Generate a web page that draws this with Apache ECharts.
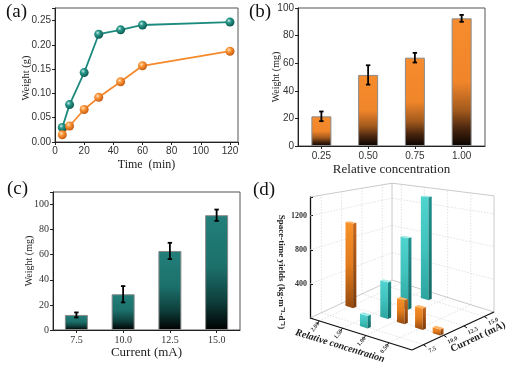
<!DOCTYPE html>
<html>
<head>
<meta charset="utf-8">
<script src="https://cdn.jsdelivr.net/npm/echarts@6/dist/echarts.min.js"></script>
<style>
  html, body { margin: 0; padding: 0; background: #fff; }
  #main { width: 514px; height: 367px; }
</style>
</head>
<body>
<div id="main"></div>
<script>
// (a) weight vs time
const timeMin = [5, 10, 20, 30, 45, 60, 120]
const weightTeal = [0.030, 0.077, 0.143, 0.222, 0.231, 0.241, 0.247]
const weightOrange = [0.015, 0.033, 0.067, 0.092, 0.124, 0.157, 0.187]

// (b) weight vs relative concentration
const concLabels = ['0.25', '0.50', '0.75', '1.00']
const concWeight = [21.5, 51.5, 64, 92.5]
const concErr = [3.5, 7, 3.5, 2.5]

// (c) weight vs current
const currentLabels = ['7.5', '10.0', '12.5', '15.0']
const currentWeight = [12, 28.5, 63, 91.5]
const currentErr = [2, 6.5, 6.5, 4.5]

// (d) space-time yields
const styConc = [2.0, 0.89, 0.5, 0.12]          // orange bars
const styConcYield = [1050, 275, 240, 65]
const styConcCurrent = 10.0
const styCurrent = [7.5, 10.0, 12.5, 15.0]      // teal bars
const styCurrentYield = [140, 430, 880, 1340]
const styCurrentConc = 1.25
const d3ConcTicks = [2.0, 1.5, 1.0, 0.5]
const d3CurrentTicks = [7.5, 10.0, 12.5, 15.0]

const SERIF = '"Liberation Serif", "Times New Roman", serif'
const SANS = '"Liberation Sans", Arial, sans-serif'

// 3d box setup
const CONC_MAX = 2.2
const CUR_MIN = 6.1
const CUR_MAX = 16.2
const Y_MAX = 1420
const FLOOR_A = [102, 32]   // conc direction (L -> F)
const FLOOR_B = [82, -38]   // current direction (F -> R)
const PERSP_U = 0.16
const PERSP_V = -0.2
const BAR_DC = 0.082
const BAR_DI = 0.2

function project(api, c, I, val) {
  const o = api.coord([CUR_MIN, 0])
  const q = api.coord([I, 0])
  const p = api.coord([I, val])
  const u = (CONC_MAX - c) / CONC_MAX
  const v = (q[0] - o[0]) / FLOOR_B[0]
  const f = 1 + PERSP_U * u + PERSP_V * v
  return [q[0] + u * FLOOR_A[0], o[1] + u * FLOOR_A[1] + v * FLOOR_B[1] - (q[1] - p[1]) * f]
}

function line(p1, p2, stroke, lw, dash) {
  return {
    type: 'line',
    shape: { x1: p1[0], y1: p1[1], x2: p2[0], y2: p2[1] },
    style: { stroke: stroke, lineWidth: lw, lineDash: dash || null }
  }
}

function renderFrame(params, api) {
  const kids = []
  const grid = '#d6d6d6'
  const dash = [1.5, 1.5]
  // walls and floor grid
  ;[400, 800, 1200].forEach(function(y) {
    kids.push(line(project(api, CONC_MAX, CUR_MIN, y), project(api, CONC_MAX, CUR_MAX, y), grid, 0.7, dash))
    kids.push(line(project(api, CONC_MAX, CUR_MAX, y), project(api, 0, CUR_MAX, y), grid, 0.7, dash))
  })
  d3CurrentTicks.forEach(function(I) {
    kids.push(line(project(api, CONC_MAX, I, 0), project(api, CONC_MAX, I, Y_MAX), grid, 0.7, dash))
    kids.push(line(project(api, CONC_MAX, I, 0), project(api, 0, I, 0), grid, 0.7, dash))
  })
  d3ConcTicks.forEach(function(c) {
    kids.push(line(project(api, c, CUR_MAX, 0), project(api, c, CUR_MAX, Y_MAX), grid, 0.7, dash))
    kids.push(line(project(api, c, CUR_MIN, 0), project(api, c, CUR_MAX, 0), grid, 0.7, dash))
  })
  // box edges
  const edge = '#bdbdbd'
  const Lf = project(api, CONC_MAX, CUR_MIN, 0)
  const Bf = project(api, CONC_MAX, CUR_MAX, 0)
  const Rf = project(api, 0, CUR_MAX, 0)
  const Ff = project(api, 0, CUR_MIN, 0)
  const Lt = project(api, CONC_MAX, CUR_MIN, Y_MAX)
  const Bt = project(api, CONC_MAX, CUR_MAX, Y_MAX)
  const Rt = project(api, 0, CUR_MAX, Y_MAX)
  kids.push(line(Lf, Bf, edge, 0.8))
  kids.push(line(Bf, Rf, edge, 0.8))
  kids.push(line(Bf, Bt, edge, 0.8))
  kids.push(line(Rf, Rt, edge, 0.8))
  kids.push(line(Lt, Bt, edge, 0.8))
  kids.push(line(Bt, Rt, edge, 0.8))
  // front axes
  kids.push(line(Lf, Ff, '#111', 1.3))
  kids.push(line(Ff, Rf, '#111', 1.3))
  d3ConcTicks.forEach(function(c) {
    const p = project(api, c, CUR_MIN, 0)
    kids.push(line(p, [p[0] - 2, p[1] + 3], '#111', 1))
    kids.push({
      type: 'text', x: p[0] - 4, y: p[1] + 6, rotation: 0.9,
      style: { text: c.toFixed(2), fill: '#333', font: 'bold 6px ' + SERIF, align: 'center', verticalAlign: 'middle' }
    })
  })
  d3CurrentTicks.forEach(function(I) {
    const p = project(api, 0, I, 0)
    kids.push(line(p, [p[0] + 3, p[1] + 2], '#111', 1))
    kids.push({
      type: 'text', x: p[0] + 9, y: p[1] + 5, rotation: 0.44,
      style: { text: I.toFixed(1), fill: '#333', font: 'bold 6px ' + SERIF, align: 'center', verticalAlign: 'middle' }
    })
  })
  kids.push({
    type: 'text', x: 340, y: 346, rotation: -0.3,
    style: { text: 'Relative concentration', fill: '#222', font: 'italic bold 10px ' + SERIF, align: 'center', verticalAlign: 'middle' }
  })
  kids.push({
    type: 'text', x: 478, y: 337, rotation: 0.44,
    style: { text: 'Current (mA)', fill: '#222', font: 'bold 10px ' + SERIF, align: 'center', verticalAlign: 'middle' }
  })
  return { type: 'group', children: kids }
}

const barColors = {
  orange: {
    left: ['#f8922a', '#e27b1c', '#94490f'],
    right: ['#c8661b', '#7a3a0a'],
    top: '#ffb466'
  },
  teal: {
    left: ['#50d4cf', '#40c2bd', '#2ca49f'],
    right: ['#1f908c', '#136a67'],
    top: '#9de9e5'
  }
}

function grad(stops) {
  return {
    type: 'linear', x: 0, y: 0, x2: 0, y2: 1,
    colorStops: stops.map(function(c, i) { return { offset: i / (stops.length - 1), color: c } })
  }
}

function renderBar3d(params, api) {
  const c = api.value(0)
  const I = api.value(1)
  const val = api.value(2)
  const col = api.value(3) === 0 ? barColors.orange : barColors.teal
  const lb = project(api, c + BAR_DC, I - BAR_DI, 0)
  const fb = project(api, c - BAR_DC, I - BAR_DI, 0)
  const rb = project(api, c - BAR_DC, I + BAR_DI, 0)
  const lt = project(api, c + BAR_DC, I - BAR_DI, val)
  const ft = project(api, c - BAR_DC, I - BAR_DI, val)
  const rt = project(api, c - BAR_DC, I + BAR_DI, val)
  const bt = project(api, c + BAR_DC, I + BAR_DI, val)
  return {
    type: 'group',
    children: [
      { type: 'polygon', shape: { points: [lb, fb, ft, lt] }, style: { fill: grad(col.left) } },
      { type: 'polygon', shape: { points: [fb, rb, rt, ft] }, style: { fill: grad(col.right) } },
      { type: 'polygon', shape: { points: [lt, ft, rt, bt] }, style: { fill: col.top } }
    ]
  }
}

// 3d bars, drawn back to front
const bars3d = []
styConc.forEach(function(c, i) { bars3d.push([c, styConcCurrent, styConcYield[i], 0]) })
styCurrent.forEach(function(I, i) { bars3d.push([styCurrentConc, I, styCurrentYield[i], 1]) })
bars3d.sort(function(a, b) {
  const na = (CONC_MAX - a[0]) / CONC_MAX - (a[1] - CUR_MIN) / (CUR_MAX - CUR_MIN)
  const nb = (CONC_MAX - b[0]) / CONC_MAX - (b[1] - CUR_MIN) / (CUR_MAX - CUR_MIN)
  return na - nb
})

function renderErr(params, api) {
  const i = api.value(0)
  const m = api.value(1)
  const e = api.value(2)
  const hi = api.coord([i, m + e])
  const lo = api.coord([i, m - e])
  const w = 2.2
  return {
    type: 'group',
    children: [
      line(hi, lo, '#000', 1.8),
      line([hi[0] - w, hi[1]], [hi[0] + w, hi[1]], '#000', 1.8),
      line([lo[0] - w, lo[1]], [lo[0] + w, lo[1]], '#000', 1.8)
    ]
  }
}

function ball(light, mid, dark) {
  return {
    type: 'radial', x: 0.38, y: 0.35, r: 0.65,
    colorStops: [{ offset: 0, color: light }, { offset: 0.35, color: mid }, { offset: 1, color: dark }]
  }
}

function yName(text, x, y, size) {
  return {
    type: 'text', x: x, y: y, rotation: Math.PI / 2,
    style: { text: text, font: size + 'px ' + SERIF, fill: '#222', align: 'center', verticalAlign: 'middle' }
  }
}

const isMult = function(v, step) { return Math.abs(v / step - Math.round(v / step)) < 1e-6 }

const frameGrid = { show: true, borderColor: '#555', borderWidth: 1, backgroundColor: 'transparent' }
const tickOut = { show: true, inside: false, length: 3, lineStyle: { color: '#222' } }
const axisBlack = { show: true, onZero: false, lineStyle: { color: '#222', width: 1 } }

const chart = echarts.init(document.getElementById('main'))
chart.setOption({
  animation: false,
  backgroundColor: '#fff',
  grid: [
    Object.assign({ left: 55, top: 8, width: 183, height: 134 }, frameGrid),
    Object.assign({ left: 298, top: 8, width: 187, height: 138 }, frameGrid),
    Object.assign({ left: 53, top: 192, width: 187, height: 138 }, frameGrid),
    { left: 310, top: 197, width: 82, height: 121, show: false }
  ],
  xAxis: [
    {
      gridIndex: 0, type: 'value', min: 0, max: 125.5, interval: 20,
      axisLine: axisBlack, axisTick: tickOut, splitLine: { show: false },
      axisLabel: { color: '#333', fontSize: 10, fontFamily: SANS, margin: 4,
        formatter: function(v) { return isMult(v, 20) ? String(v) : '' } },
      name: 'Time  (min)', nameLocation: 'middle', nameGap: 17, nameMoveOverlap: false,
      nameTextStyle: { fontFamily: SERIF, fontSize: 12, color: '#222' }
    },
    {
      gridIndex: 1, type: 'category', data: concLabels,
      axisLine: axisBlack, axisTick: Object.assign({ alignWithLabel: true }, tickOut),
      axisLabel: { color: '#333', fontSize: 10, fontFamily: SANS, margin: 5 },
      name: 'Relative concentration', nameLocation: 'middle', nameGap: 17, nameMoveOverlap: false,
      nameTextStyle: { fontFamily: SERIF, fontSize: 13, color: '#222' }
    },
    {
      gridIndex: 2, type: 'category', data: currentLabels,
      axisLine: axisBlack, axisTick: Object.assign({ alignWithLabel: true }, tickOut),
      axisLabel: { color: '#333', fontSize: 10, fontFamily: SERIF, margin: 5 },
      name: 'Current (mA)', nameLocation: 'middle', nameGap: 16, nameMoveOverlap: false,
      nameTextStyle: { fontFamily: SERIF, fontSize: 13, color: '#222' }
    },
    { gridIndex: 3, type: 'value', min: CUR_MIN, max: CUR_MAX, show: false }
  ],
  yAxis: [
    {
      gridIndex: 0, type: 'value', min: 0, max: 0.276, interval: 0.05,
      axisLine: axisBlack, axisTick: tickOut, splitLine: { show: false },
      axisLabel: { color: '#333', fontSize: 10, fontFamily: SANS, margin: 4,
        formatter: function(v) { return isMult(v, 0.05) ? v.toFixed(2) : '' } }
    },
    {
      gridIndex: 1, type: 'value', min: 0, max: 100, interval: 20,
      axisLine: axisBlack, axisTick: tickOut, splitLine: { show: false },
      axisLabel: { color: '#333', fontSize: 10, fontFamily: SANS, margin: 4 }
    },
    {
      gridIndex: 2, type: 'value', min: 0, max: 110, interval: 20,
      axisLine: axisBlack, axisTick: tickOut, splitLine: { show: false },
      axisLabel: { color: '#333', fontSize: 10, fontFamily: SERIF, margin: 4,
        formatter: function(v) { return isMult(v, 20) ? String(v) : '' } }
    },
    {
      gridIndex: 3, type: 'value', min: 0, max: Y_MAX, interval: 400,
      axisLine: { show: true, onZero: false, lineStyle: { color: '#111', width: 1.3 } },
      axisTick: { show: true, inside: true, length: 3, lineStyle: { color: '#111' } },
      splitLine: { show: false },
      axisLabel: { color: '#333', fontSize: 8, fontWeight: 'bold', fontFamily: SERIF, margin: 3,
        formatter: function(v) { return v > 0 && isMult(v, 400) ? String(v) : '' } }
    }
  ],
  graphic: [
    { type: 'text', left: 6, top: 3, style: { text: '(a)', font: '19px ' + SERIF, fill: '#111' } },
    { type: 'text', left: 249, top: 3, style: { text: '(b)', font: '19px ' + SERIF, fill: '#111' } },
    { type: 'text', left: 7, top: 180, style: { text: '(c)', font: '19px ' + SERIF, fill: '#111' } },
    { type: 'text', left: 253, top: 181, style: { text: '(d)', font: '19px ' + SERIF, fill: '#111' } },
    yName('Weight (g)', 26, 78, 10.5),
    yName('Weight (mg)', 276, 77, 10),
    yName('Weight (mg)', 29, 261, 10),
    {
      type: 'text', x: 281, y: 272, rotation: -Math.PI / 2,
      style: { text: 'Space-time yields (kg·m⁻³·d⁻¹)', font: 'bold 9px ' + SERIF, fill: '#222', align: 'center', verticalAlign: 'middle' }
    }
  ],
  series: [
    {
      type: 'line', xAxisIndex: 0, yAxisIndex: 0,
      data: timeMin.map(function(t, i) { return [t, weightTeal[i]] }),
      symbol: 'circle', symbolSize: 9, showSymbol: true,
      lineStyle: { color: '#1d8a7e', width: 1.8 },
      itemStyle: { color: ball('#cdeee9', '#2c9a8d', '#0c5a51') }
    },
    {
      type: 'line', xAxisIndex: 0, yAxisIndex: 0,
      data: timeMin.map(function(t, i) { return [t, weightOrange[i]] }),
      symbol: 'circle', symbolSize: 9, showSymbol: true,
      lineStyle: { color: '#f7892d', width: 1.8 },
      itemStyle: { color: ball('#ffe6cc', '#ff9a3c', '#c75c10') }
    },
    {
      type: 'bar', xAxisIndex: 1, yAxisIndex: 1, data: concWeight, barWidth: 20,
      itemStyle: {
        borderColor: '#8a8a8a', borderWidth: 1,
        color: { type: 'linear', x: 0, y: 0, x2: 0, y2: 1, colorStops: [
          { offset: 0, color: '#f68c2d' }, { offset: 0.5, color: '#f0852a' },
          { offset: 0.72, color: '#a35a1d' }, { offset: 0.87, color: '#46240e' }, { offset: 1, color: '#080300' }
        ] }
      }
    },
    {
      type: 'custom', xAxisIndex: 1, yAxisIndex: 1, renderItem: renderErr, z: 5,
      encode: { x: 0, y: 1 },
      data: concWeight.map(function(m, i) { return [i, m, concErr[i]] })
    },
    {
      type: 'bar', xAxisIndex: 2, yAxisIndex: 2, data: currentWeight, barWidth: 23,
      itemStyle: {
        borderColor: '#8a8a8a', borderWidth: 1,
        color: { type: 'linear', x: 0, y: 0, x2: 0, y2: 1, colorStops: [
          { offset: 0, color: '#237f7a' }, { offset: 0.45, color: '#1c706b' },
          { offset: 0.75, color: '#0e3f3c' }, { offset: 1, color: '#000000' }
        ] }
      }
    },
    {
      type: 'custom', xAxisIndex: 2, yAxisIndex: 2, renderItem: renderErr, z: 5,
      encode: { x: 0, y: 1 },
      data: currentWeight.map(function(m, i) { return [i, m, currentErr[i]] })
    },
    {
      type: 'custom', xAxisIndex: 3, yAxisIndex: 3, renderItem: renderFrame, z: 1,
      encode: { x: 0, y: 1 }, data: [[CUR_MIN, 0]], silent: true
    },
    {
      type: 'custom', xAxisIndex: 3, yAxisIndex: 3, renderItem: renderBar3d, z: 3,
      encode: { x: 1, y: 2 }, data: bars3d
    }
  ]
})
</script>
</body>
</html>
